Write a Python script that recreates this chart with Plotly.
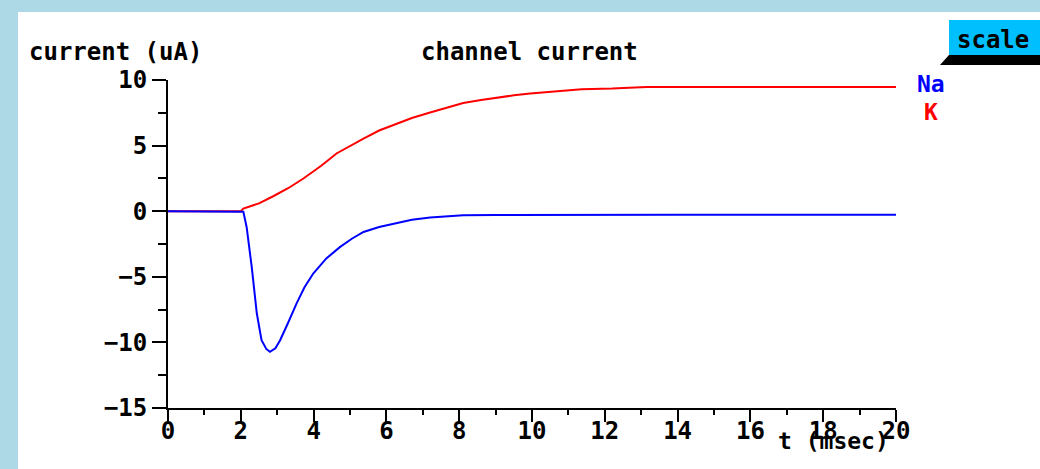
import plotly.graph_objects as go

# ---- data ----
t_na = [0, 2.0, 2.07, 2.16, 2.30, 2.44, 2.57, 2.70, 2.80, 2.95, 3.08, 3.30, 3.53,
        3.75, 3.99, 4.35, 4.73, 5.05, 5.37, 5.80, 6.28, 6.70, 7.20, 8.11, 9.0,
        10, 12, 14, 16, 18, 20]
na = [0, 0, -0.05, -1.2, -4.24, -7.8, -9.83, -10.5, -10.72, -10.45, -9.83, -8.5,
      -7.04, -5.8, -4.75, -3.6, -2.72, -2.1, -1.58, -1.2, -0.89, -0.65, -0.48,
      -0.30, -0.29, -0.28, -0.28, -0.28, -0.28, -0.28, -0.28]

t_k = [0, 2.0, 2.07, 2.5, 2.89, 3.3, 3.72, 4.2, 4.63, 5.0, 5.37, 5.8, 6.28, 6.7,
       7.20, 7.65, 8.11, 8.6, 9.03, 9.5, 9.95, 10.45, 11.36, 12.2, 13.15, 14,
       16, 18, 20]
k = [0, 0, 0.2, 0.6, 1.14, 1.75, 2.49, 3.45, 4.40, 5.0, 5.54, 6.15, 6.68, 7.1,
     7.52, 7.9, 8.25, 8.48, 8.66, 8.83, 8.97, 9.09, 9.30, 9.35, 9.47, 9.47,
     9.47, 9.47, 9.47]

x_ticks = [0, 2, 4, 6, 8, 10, 12, 14, 16, 18, 20]
y_ticks = [-15, -10, -5, 0, 5, 10]

FONT = "DejaVu Sans Mono"

fig = go.Figure()
fig.add_trace(go.Scatter(x=t_k, y=k, mode="lines", name="K",
                         line=dict(color="#ff0000", width=2), showlegend=False))
fig.add_trace(go.Scatter(x=t_na, y=na, mode="lines", name="Na",
                         line=dict(color="#0000ff", width=2), showlegend=False))

axis_font = dict(family=FONT, size=24, color="black", weight="bold")

fig.update_layout(
    width=1040, height=469, autosize=False,
    margin=dict(l=168, r=144, t=80, b=61),
    paper_bgcolor="#add8e6",
    plot_bgcolor="white",
    xaxis=dict(range=[0, 20], tickvals=x_ticks, ticks="outside", ticklen=12,
               tickwidth=2, tickcolor="black", showline=True, linecolor="black",
               linewidth=2, showgrid=False, zeroline=False, tickfont=axis_font,
               ticklabelstandoff=-12,
               minor=dict(dtick=1, ticks="outside", ticklen=5, tickwidth=2,
                          tickcolor="black", showgrid=False)),
    yaxis=dict(range=[-15, 10], tickvals=y_ticks, ticks="outside", ticklen=14,
               tickwidth=2, tickcolor="black", showline=True, linecolor="black",
               linewidth=2, showgrid=False, zeroline=False, tickfont=axis_font,
               minor=dict(dtick=2.5, ticks="outside", ticklen=8, tickwidth=2,
                          tickcolor="black", showgrid=False)),
)

# white panel
fig.add_shape(type="rect", xref="paper", yref="paper", x0=-0.206, x1=1.4,
              y0=-0.4, y1=1.207, fillcolor="white", line=dict(width=0),
              layer="below")
# scale button shadow and face
fig.add_shape(type="path", xref="paper", yref="paper",
              path="M 1.0728 1.0762 L 1.4 1.0762 L 1.4 1.0457 L 1.0604 1.0457 Z",
              fillcolor="black", line=dict(width=0))
fig.add_shape(type="rect", xref="paper", yref="paper", x0=1.0728, x1=1.4,
              y0=1.0762, y1=1.183, fillcolor="#00bfff", line=dict(width=0))

txt = dict(family=FONT, size=24, color="black", weight="bold")
fig.add_annotation(text="current (uA)", xref="paper", yref="paper",
                   x=-0.1937, y=1.0854, xanchor="left", yanchor="middle",
                   showarrow=False, font=txt)
fig.add_annotation(text="channel current", xref="paper", yref="paper",
                   x=0.4959, y=1.0854, xanchor="center", yanchor="middle",
                   showarrow=False, font=txt)
fig.add_annotation(text="t (msec)", xref="paper", yref="paper",
                   x=0.993, y=-0.1006, xanchor="right", yanchor="middle",
                   showarrow=False, font=dict(family=FONT, size=23, color="black", weight="bold"))
fig.add_annotation(text="Na", xref="paper", yref="paper",
                   x=1.048, y=0.989, xanchor="center", yanchor="middle",
                   showarrow=False, font=dict(family=FONT, size=23, color="#0000ff", weight="bold"))
fig.add_annotation(text="K", xref="paper", yref="paper",
                   x=1.048, y=0.901, xanchor="center", yanchor="middle",
                   showarrow=False, font=dict(family=FONT, size=23, color="#ff0000", weight="bold"))
fig.add_annotation(text="scale", xref="paper", yref="paper",
                   x=1.133, y=1.122, xanchor="center", yanchor="middle",
                   showarrow=False, font=txt)

fig.write_html("out.html",
               config={"displayModeBar": False},
               post_script="document.body.style.margin='0px';"
                           "document.body.style.background='#add8e6';")
